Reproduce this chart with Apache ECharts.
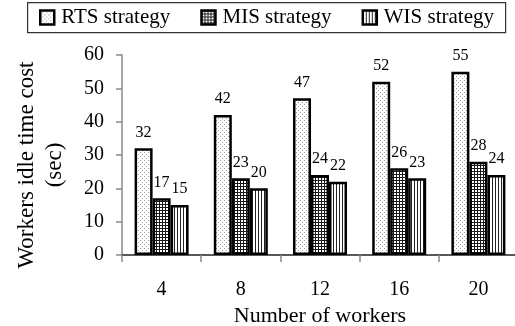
<!DOCTYPE html>
<html>
<head>
<meta charset="utf-8">
<script src="https://cdn.jsdelivr.net/npm/echarts@6/dist/echarts.min.js"></script>
<style>
  html, body { margin: 0; padding: 0; background: #fff; }
  #chart { width: 515px; height: 326px; }
</style>
</head>
<body>
<div id="chart"></div>
<script>
// Idle time of workers per scheduling strategy
const workers = ['4', '8', '12', '16', '20'];
const rtsValues = [32, 42, 47, 52, 55];
const misValues = [17, 23, 24, 26, 28];
const wisValues = [15, 20, 22, 23, 24];
const seriesNames = ['RTS strategy', 'MIS strategy', 'WIS strategy'];

// Small tiled fill patterns for the bars
function makeTile(w, h, draw) {
  const c = document.createElement('canvas');
  c.width = w; c.height = h;
  const ctx = c.getContext('2d');
  ctx.fillStyle = '#ffffff';
  ctx.fillRect(0, 0, w, h);
  draw(ctx);
  return { image: c, repeat: 'repeat' };
}
const dotFill = makeTile(4, 4, ctx => {
  ctx.fillStyle = '#9a9a9a';
  ctx.fillRect(0, 0, 1, 1);
  ctx.fillRect(2, 2, 1, 1);
});
const gridFill = makeTile(3, 3, ctx => {
  ctx.fillStyle = '#1a1a1a';
  ctx.fillRect(0, 0, 3, 1);
  ctx.fillRect(0, 0, 1, 3);
});
const stripeFill = makeTile(3, 1, ctx => {
  ctx.fillStyle = '#222222';
  ctx.fillRect(0, 0, 1, 1);
});

const serif = '"Liberation Serif", "DejaVu Serif", serif';

function barSeries(name, data, fill) {
  return {
    name: name,
    type: 'bar',
    data: data,
    barWidth: 18,
    barGap: '0%',
    itemStyle: { color: fill, borderColor: '#000', borderWidth: 2.5 },
    label: {
      show: true, position: 'top', distance: 8,
      fontFamily: serif, fontSize: 16, color: '#000'
    }
  };
}

const chart = echarts.init(document.getElementById('chart'), null, { renderer: 'canvas' });
chart.setOption({
  animation: false,
  backgroundColor: '#fff',
  textStyle: { fontFamily: serif },
  legend: {
    data: seriesNames,
    icon: 'rect',
    left: 27, top: 2,
    width: 478,
    padding: [5, 12, 5, 12],
    itemWidth: 14, itemHeight: 14, itemGap: 30,
    itemStyle: { borderWidth: 2.5, borderColor: '#000' },
    textStyle: { fontFamily: serif, fontSize: 21, color: '#000', padding: [0, 0, 0, 2] }
  },
  grid: {
    left: 122, right: -3, top: 55, bottom: 71,
    containLabel: false, outerBoundsMode: 'none'
  },
  graphic: [
    // frame around the legend
    {
      type: 'rect',
      left: 27, top: 2,
      shape: { width: 478, height: 30 },
      style: { fill: 'transparent', stroke: '#333', lineWidth: 1.2 },
      silent: true, z: 10
    },
    // rotated y-axis title, two lines
    {
      type: 'text',
      x: 41, y: 165,
      rotation: Math.PI / 2,
      style: {
        text: 'Workers idle time cost\n(sec)',
        fontFamily: serif, fontSize: 23, lineHeight: 28,
        fill: '#000', align: 'center', verticalAlign: 'middle'
      }
    }
  ],
  xAxis: {
    type: 'category',
    data: workers,
    name: 'Number of workers',
    nameLocation: 'middle',
    nameGap: 43,
    nameTextStyle: { fontFamily: serif, fontSize: 22, color: '#000' },
    axisLine: { lineStyle: { color: '#222', width: 1.5 } },
    axisTick: { show: true, length: 7, lineStyle: { color: '#888', width: 1.5 } },
    axisLabel: { margin: 25, fontFamily: serif, fontSize: 20, color: '#000' }
  },
  yAxis: {
    type: 'value',
    min: 0, max: 60, interval: 10,
    axisLine: { show: true, lineStyle: { color: '#888', width: 1.5 } },
    axisTick: { show: true, length: 6, lineStyle: { color: '#888', width: 1.5 } },
    splitLine: { show: false },
    axisLabel: { margin: 18, fontFamily: serif, fontSize: 20, color: '#000' }
  },
  series: [
    barSeries(seriesNames[0], rtsValues, dotFill),
    barSeries(seriesNames[1], misValues, gridFill),
    barSeries(seriesNames[2], wisValues, stripeFill)
  ]
});
</script>
</body>
</html>
